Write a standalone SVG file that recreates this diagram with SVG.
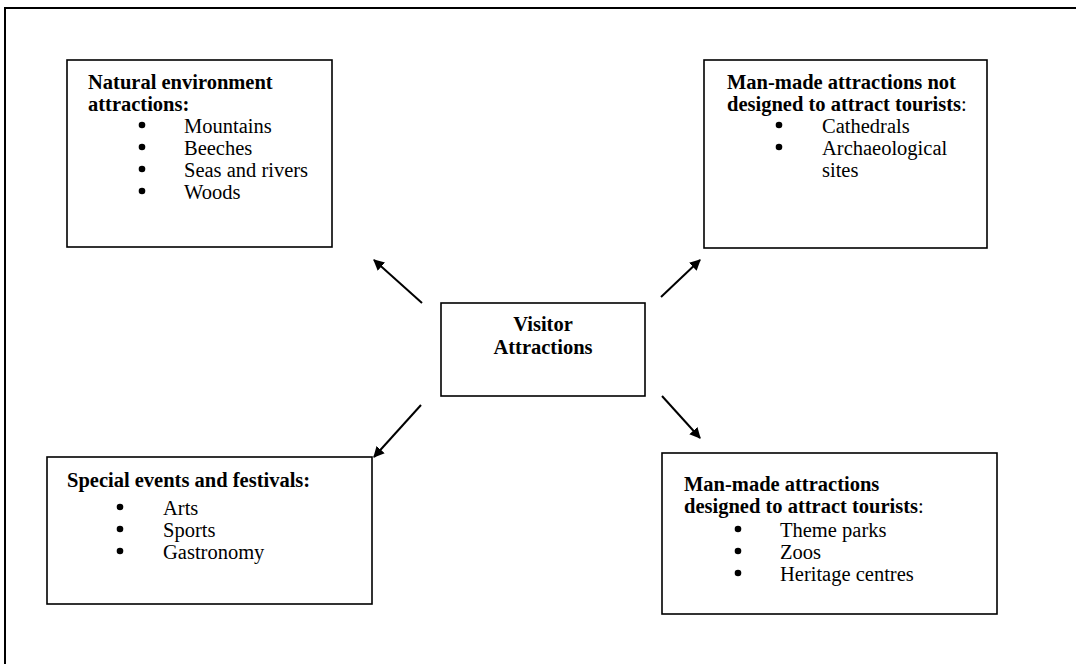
<svg xmlns="http://www.w3.org/2000/svg" width="1076" height="664" viewBox="0 0 1076 664">
<defs>
<style>
.box{fill:#fff;stroke:#000;stroke-width:1.6}
.t{font-family:"Liberation Serif","Times New Roman",serif;font-size:20.5px;fill:#000}
.b{font-weight:bold}
.conn{stroke:#000;stroke-width:2;fill:none}
</style>
<marker id="ah" viewBox="0 0 10 10" refX="9" refY="5" markerWidth="5.5" markerHeight="5.5" orient="auto" markerUnits="strokeWidth">
<path d="M0,0 L10,5 L0,10 z" fill="#000"/>
</marker>
</defs>
<rect width="1076" height="664" fill="#fff"/>
<path d="M5,664 V8 H1076" fill="none" stroke="#000" stroke-width="2"/>

<g id="natural">
<rect class="box" x="67" y="60" width="265" height="187"/>
<text class="t b" x="88" y="89">Natural environment</text>
<text class="t b" x="88" y="111">attractions:</text>
<g class="t">
<circle cx="142" cy="125" r="3.3"/><text x="184" y="133">Mountains</text>
<circle cx="142" cy="147" r="3.3"/><text x="184" y="155">Beeches</text>
<circle cx="142" cy="169" r="3.3"/><text x="184" y="177">Seas and rivers</text>
<circle cx="142" cy="191" r="3.3"/><text x="184" y="199">Woods</text>
</g>
</g>

<g id="notdesigned">
<rect class="box" x="704" y="60" width="283" height="188"/>
<text class="t b" x="727" y="89">Man-made attractions not</text>
<text class="t" x="727" y="111"><tspan class="b">designed to attract tourists</tspan>:</text>
<g class="t">
<circle cx="779" cy="125" r="3.3"/><text x="822" y="133">Cathedrals</text>
<circle cx="779" cy="147" r="3.3"/><text x="822" y="155">Archaeological</text>
<text x="822" y="177">sites</text>
</g>
</g>

<g id="center">
<rect class="box" x="441" y="303" width="204" height="93"/>
<text class="t b" x="543" y="331" text-anchor="middle">Visitor</text>
<text class="t b" x="543" y="354" text-anchor="middle">Attractions</text>
</g>

<g id="events">
<rect class="box" x="47" y="457" width="325" height="147"/>
<text class="t b" x="67" y="487">Special events and festivals:</text>
<g class="t">
<circle cx="120" cy="507" r="3.3"/><text x="163" y="515">Arts</text>
<circle cx="120" cy="529" r="3.3"/><text x="163" y="537">Sports</text>
<circle cx="120" cy="551" r="3.3"/><text x="163" y="559">Gastronomy</text>
</g>
</g>

<g id="designed">
<rect class="box" x="662" y="453" width="335" height="161"/>
<text class="t b" x="684" y="491">Man-made attractions</text>
<text class="t" x="684" y="513"><tspan class="b">designed to attract tourists</tspan>:</text>
<g class="t">
<circle cx="738" cy="529" r="3.3"/><text x="780" y="537">Theme parks</text>
<circle cx="738" cy="551" r="3.3"/><text x="780" y="559">Zoos</text>
<circle cx="738" cy="573" r="3.3"/><text x="780" y="581">Heritage centres</text>
</g>
</g>

<g id="connectors">
<line class="conn" x1="422" y1="303" x2="374" y2="260" marker-end="url(#ah)"/>
<line class="conn" x1="661" y1="297" x2="700" y2="260" marker-end="url(#ah)"/>
<line class="conn" x1="421" y1="405" x2="374" y2="457" marker-end="url(#ah)"/>
<line class="conn" x1="662" y1="396" x2="700" y2="438" marker-end="url(#ah)"/>
</g>
</svg>
